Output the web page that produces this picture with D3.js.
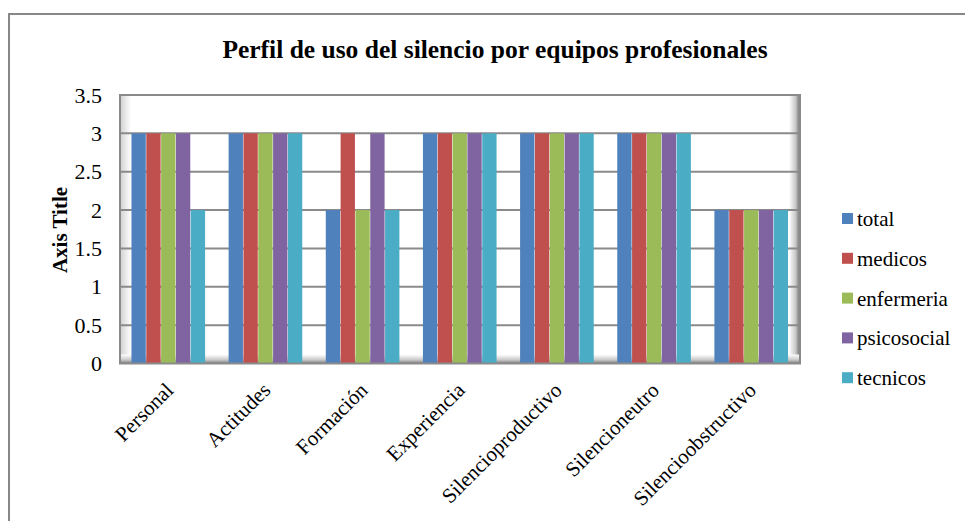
<!DOCTYPE html>
<html><head><meta charset="utf-8">
<script src="https://cdn.jsdelivr.net/npm/d3@7"></script>
<style>body{margin:0;background:#fff}svg{display:block}svg text{font-family:"Liberation Serif","Times New Roman",Tinos,"DejaVu Serif",serif !important;fill:#000}</style>
</head><body><svg id="c" width="965" height="521"></svg>
<script>
const categories = ["Personal","Actitudes","Formación","Experiencia","Silencioproductivo","Silencioneutro","Silencioobstructivo"];
const seriesNames = ["total","medicos","enfermeria","psicosocial","tecnicos"];
const total       = [3,3,2,3,3,3,2];
const medicos     = [3,3,3,3,3,3,2];
const enfermeria  = [3,3,2,3,3,3,2];
const psicosocial = [3,3,3,3,3,3,2];
const tecnicos    = [2,3,2,3,3,3,2];
const yTicks = [0,0.5,1,1.5,2,2.5,3,3.5];
const colors = ["#4F81BD","#C0504D","#9BBB59","#8064A2","#4BACC6"];
const seriesValues = [total, medicos, enfermeria, psicosocial, tecnicos];

const svg = d3.select("#c");
const L=120, R=800, T=95, B=363.5;
svg.append("rect").attr("x",9).attr("y",14).attr("width",980).attr("height",540)
  .attr("fill","none").attr("stroke","#878787").attr("stroke-width",2);

const defs = svg.append("defs");
const gR = defs.append("linearGradient").attr("id","gr").attr("x1","0").attr("x2","1").attr("y1","0").attr("y2","0");
gR.append("stop").attr("offset","0").attr("stop-color","#fff");
gR.append("stop").attr("offset","0.6").attr("stop-color","#c8c8c8");
gR.append("stop").attr("offset","1").attr("stop-color","#6e6e6e");
const gB = defs.append("linearGradient").attr("id","gb").attr("x1","0").attr("x2","0").attr("y1","0").attr("y2","1");
gB.append("stop").attr("offset","0").attr("stop-color","#fff");
gB.append("stop").attr("offset","0.6").attr("stop-color","#c8c8c8");
gB.append("stop").attr("offset","1").attr("stop-color","#7a7a7a");
const gL = defs.append("linearGradient").attr("id","gl").attr("x1","0").attr("x2","1").attr("y1","0").attr("y2","0");
gL.append("stop").attr("offset","0").attr("stop-color","#d0d0d0");
gL.append("stop").attr("offset","1").attr("stop-color","#fff");

const x = d3.scaleBand().domain(categories).range([L,R]).paddingInner(0.237).paddingOuter(0.118);
const xs = d3.scaleBand().domain(seriesNames).range([0,x.bandwidth()]);
const y = d3.scaleLinear().domain([0,3.5]).range([B,T]);

svg.append("rect").attr("x",L).attr("y",T).attr("width",11).attr("height",B-T).attr("fill","url(#gl)");
svg.append("rect").attr("x",R-11).attr("y",T).attr("width",11).attr("height",B-T).attr("fill","url(#gr)");
svg.append("rect").attr("x",L).attr("y",B-9).attr("width",R-L).attr("height",9).attr("fill","url(#gb)");

svg.append("g").selectAll("line").data(yTicks.filter(d=>d>0)).join("line")
  .attr("x1",L).attr("x2",R).attr("y1",d=>y(d)).attr("y2",d=>y(d))
  .attr("stroke","#8a8a8a").attr("stroke-width",2);

const g = svg.append("g");
categories.forEach((c,i)=>{
  seriesNames.forEach((s,j)=>{
    const v = seriesValues[j][i];
    g.append("rect").attr("x",x(c)+xs(s)).attr("y",y(v)).attr("width",xs.bandwidth()-0.5)
      .attr("height",y(0)-y(v)).attr("fill",colors[j]);
  });
});

svg.append("rect").attr("x",L).attr("y",T).attr("width",R-L).attr("height",B-T)
  .attr("fill","none").attr("stroke","#8a8a8a").attr("stroke-width",2);

const yAxis = d3.axisLeft(y).tickValues(yTicks).tickSize(0).tickPadding(18).tickFormat(d=>String(d));
const ya = svg.append("g").attr("transform",`translate(${L},0)`).call(yAxis).attr("font-family",null);
ya.select(".domain").remove();
ya.selectAll("text").style("font-size","22px").attr("fill","#000");

const xAxis = d3.axisBottom(x).tickSize(0).tickPadding(0);
const xa = svg.append("g").attr("transform",`translate(0,${B})`).call(xAxis).attr("font-family",null);
xa.select(".domain").remove();
xa.selectAll("text").style("font-size","21px").attr("fill","#000")
  .attr("text-anchor","end").attr("dy","0").attr("y",0)
  .attr("transform","translate(6,28) rotate(-45)");

svg.append("text").attr("x",495).attr("y",58).attr("text-anchor","middle")
  .style("font-size","25.5px").style("font-weight","bold").text("Perfil de uso del silencio por equipos profesionales");
svg.append("text").attr("transform","translate(67,230) rotate(-90)").attr("text-anchor","middle")
  .style("font-size","21px").style("font-weight","bold").text("Axis Title");

const lg = svg.append("g");
seriesNames.forEach((s,j)=>{
  const yy = 218 + j*39.8;
  lg.append("rect").attr("x",842).attr("y",yy-5).attr("width",11).attr("height",11).attr("fill",colors[j]);
  lg.append("text").attr("x",857).attr("y",yy+8).style("font-size","21px").text(s);
});
</script></body></html>
